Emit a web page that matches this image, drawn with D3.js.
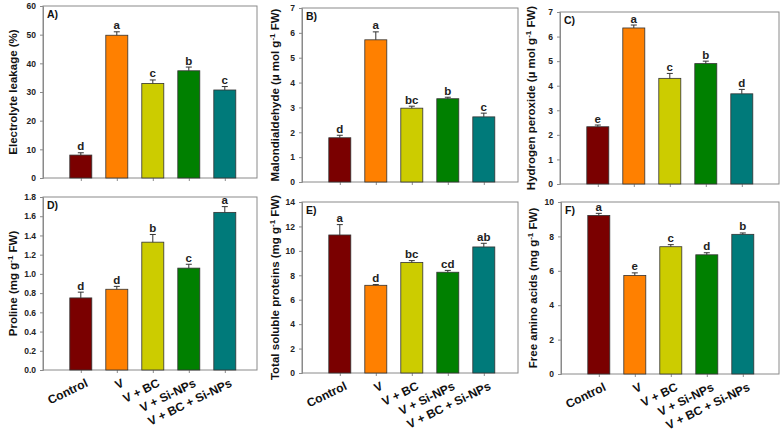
<!DOCTYPE html>
<html>
<head>
<meta charset="utf-8">
<script src="https://cdn.jsdelivr.net/npm/d3@7"></script>
<style>
  body { margin: 0; background: #fff; }
  svg { font-family: Arial, "Liberation Sans", sans-serif; }
</style>
</head>
<body>
<svg id="chart" width="783" height="434"></svg>
<script>
// treatments and bar fills
var groups = ["Control", "V", "V + BC", "V + Si-NPs", "V + BC + Si-NPs"];
var fills = ["#7a0000", "#ff8000", "#cccc00", "#008000", "#007a7a"];

// A) electrolyte leakage
var elVals = [8.0, 49.8, 33.0, 37.4, 30.7];
var elErr = [0.8, 1.2, 1.2, 1.3, 1.2];
var elLet = ["d", "a", "c", "b", "c"];
// B) malondialdehyde
var mdaVals = [1.78, 5.72, 2.97, 3.35, 2.62];
var mdaErr = [0.1, 0.32, 0.08, 0.06, 0.15];
var mdaLet = ["d", "a", "bc", "b", "c"];
// C) hydrogen peroxide
var hpVals = [2.33, 6.35, 4.3, 4.9, 3.67];
var hpErr = [0.07, 0.12, 0.2, 0.1, 0.18];
var hpLet = ["e", "a", "c", "b", "d"];
// D) proline
var proVals = [0.75, 0.84, 1.33, 1.06, 1.64];
var proErr = [0.06, 0.03, 0.08, 0.04, 0.06];
var proLet = ["d", "d", "b", "c", "a"];
// E) total soluble proteins
var tspVals = [11.3, 7.18, 9.05, 8.25, 10.32];
var tspErr = [0.85, 0.06, 0.15, 0.15, 0.3];
var tspLet = ["a", "d", "bc", "cd", "ab"];
// F) free amino acids
var faaVals = [9.22, 5.73, 7.4, 6.93, 8.12];
var faaErr = [0.12, 0.15, 0.12, 0.12, 0.08];
var faaLet = ["a", "e", "c", "d", "b"];

var panels = [
  {tag: "A)", vals: elVals, err: elErr, let: elLet, max: 60, step: 10, fmt: "d",
   title: ["Electrolyte leakage (%)"], box: [43, 6, 257, 178], tx: 13, xlab: false},
  {tag: "B)", vals: mdaVals, err: mdaErr, let: mdaLet, max: 7, step: 1, fmt: "d",
   title: ["Malondialdehyde (\u00b5 mol g", "-1", " FW)"], box: [302, 8, 518, 182], tx: 275, xlab: false},
  {tag: "C)", vals: hpVals, err: hpErr, let: hpLet, max: 7, step: 1, fmt: "d",
   title: ["Hydrogen peroxide (\u00b5 mol g", "-1", " FW)"], box: [560, 12, 779, 184], tx: 531, xlab: false},
  {tag: "D)", vals: proVals, err: proErr, let: proLet, max: 1.8, step: 0.2, fmt: ".1f",
   title: ["Proline (mg g", "-1", " FW)"], box: [43, 197, 257, 370], tx: 13, xlab: true},
  {tag: "E)", vals: tspVals, err: tspErr, let: tspLet, max: 14, step: 2, fmt: "d",
   title: ["Total soluble proteins (mg g", "-1", " FW)"], box: [302, 202, 518, 373], tx: 275, xlab: true},
  {tag: "F)", vals: faaVals, err: faaErr, let: faaLet, max: 10, step: 2, fmt: "d",
   title: ["Free amino acids (mg g", "-1", " FW)"], box: [561, 202, 779, 374], tx: 533, xlab: true}
];

var svg = d3.select("#chart");

panels.forEach(function(p) {
  var left = p.box[0], top = p.box[1], right = p.box[2], bottom = p.box[3];
  var g = svg.append("g");

  var x = d3.scaleLinear().domain([-0.05, 5.95]).range([left, left + 216]);
  var y = d3.scaleLinear().domain([0, p.max]).range([bottom, top]);
  var bw = 22;

  // frame
  g.append("rect")
    .attr("x", left).attr("y", top)
    .attr("width", right - left).attr("height", bottom - top)
    .attr("fill", "none").attr("stroke", "#8a8a8a").attr("stroke-width", 1);

  // y axis
  var ticks = d3.range(0, p.max + p.step / 2, p.step);
  var yAxis = g.append("g")
    .attr("transform", "translate(" + left + ",0)")
    .call(d3.axisLeft(y).tickValues(ticks).tickFormat(d3.format(p.fmt)).tickSize(3).tickPadding(4));
  yAxis.select(".domain").attr("stroke", "#8a8a8a");
  yAxis.selectAll(".tick line").attr("stroke", "#8a8a8a");
  yAxis.selectAll("text").attr("font-size", 8.5).attr("font-weight", "bold").attr("fill", "#222")
    .attr("font-family", "Arial, 'Liberation Sans', sans-serif");

  // x axis ticks at bar centres
  var xAxis = g.append("g")
    .attr("transform", "translate(0," + bottom + ")")
    .call(d3.axisBottom(x).tickValues([1, 2, 3, 4, 5]).tickSize(3).tickFormat(""));
  xAxis.select(".domain").remove();
  xAxis.selectAll(".tick line").attr("stroke", "#8a8a8a");

  // bars
  g.selectAll(".bar").data(p.vals).enter().append("rect")
    .attr("x", function(d, i) { return x(i + 1) - bw / 2; })
    .attr("y", function(d) { return y(d); })
    .attr("width", bw)
    .attr("height", function(d) { return bottom - y(d); })
    .attr("fill", function(d, i) { return fills[i]; })
    .attr("stroke", "#333").attr("stroke-width", 0.8);

  // error bars (upper only)
  p.vals.forEach(function(v, i) {
    var cx = x(i + 1), yt = y(v + p.err[i]);
    g.append("line").attr("x1", cx).attr("x2", cx).attr("y1", y(v)).attr("y2", yt)
      .attr("stroke", "#333").attr("stroke-width", 1);
    g.append("line").attr("x1", cx - 3).attr("x2", cx + 3).attr("y1", yt).attr("y2", yt)
      .attr("stroke", "#333").attr("stroke-width", 1);
    g.append("text").attr("x", cx).attr("y", yt - 2.5)
      .attr("text-anchor", "middle").attr("font-size", 11.5).attr("font-weight", "bold")
      .attr("fill", "#222").text(p.let[i]);
  });

  // panel tag
  g.append("text").attr("x", left + 4).attr("y", top + 12)
    .attr("font-size", 10.5).attr("font-weight", "bold").attr("fill", "#111").text(p.tag);

  // y title
  var ty = g.append("text")
    .attr("transform", "translate(" + p.tx + "," + ((top + bottom) / 2) + ") rotate(-90)")
    .attr("text-anchor", "middle").attr("dy", "0.35em")
    .attr("font-size", 11.5).attr("font-weight", "bold").attr("fill", "#111");
  ty.append("tspan").text(p.title[0]);
  if (p.title.length > 1) {
    ty.append("tspan").attr("dy", -4).attr("font-size", 8).text(p.title[1]);
    ty.append("tspan").attr("dy", 4).text(p.title[2]);
  }

  // category labels
  if (p.xlab) {
    groups.forEach(function(name, i) {
      g.append("text")
        .attr("transform", "translate(" + (x(i + 1) + 6) + "," + (bottom + 12) + ") rotate(-26)")
        .attr("text-anchor", "end").attr("dy", "0.35em")
        .attr("font-size", 12).attr("font-weight", "bold").attr("fill", "#111")
        .text(name);
    });
  }
});
</script>
</body>
</html>
